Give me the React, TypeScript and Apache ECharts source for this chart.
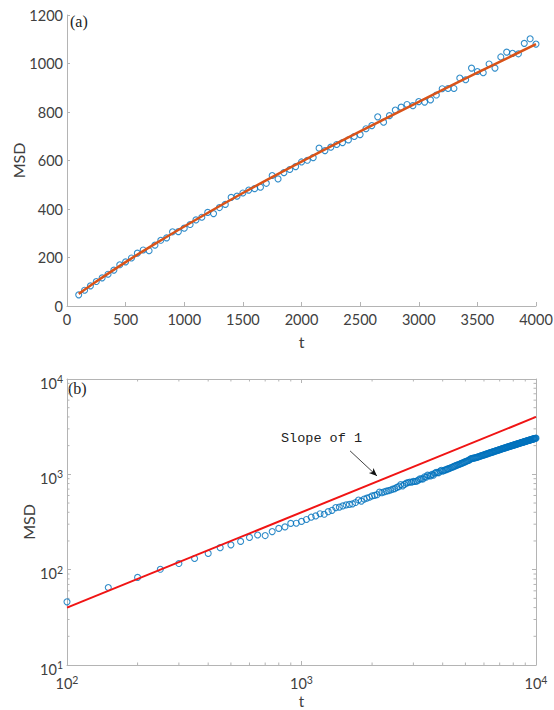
import React, { useEffect, useRef } from 'react';
import * as echarts from 'echarts';

// sample times: t = 100, 150, 200, ... (step 50)
const T_START = 100;
const T_STEP = 50;

// MSD, t = 100 ... 4000
const MSD_A = [
  46, 65, 83, 101, 116, 131, 148, 170, 182,
  198, 218, 231, 228, 251, 271, 281, 306, 307, 321,
  336, 355, 366, 386, 381, 406, 419, 448, 453, 466,
  478, 484, 490, 506, 538, 524, 550, 563, 575, 594,
  601, 612, 651, 641, 655, 666, 674, 685, 699, 707,
  731, 744, 780, 758, 785, 808, 820, 831, 826, 843,
  841, 850, 870, 896, 897, 897, 940, 933, 981, 967,
  962, 998, 981, 1027, 1047, 1042, 1040, 1083, 1102, 1080,
];

// MSD, t = 4050 ... 10000
const MSD_B_TAIL = [
  1098, 1112, 1121, 1139, 1147, 1163, 1180, 1188, 1205, 1221,
  1232, 1250, 1259, 1273, 1285, 1302, 1310, 1331, 1342, 1361,
  1370, 1388, 1396, 1418, 1446, 1460, 1472, 1475, 1487, 1490,
  1502, 1505, 1522, 1528, 1547, 1553, 1570, 1576, 1592, 1600,
  1612, 1619, 1637, 1641, 1657, 1666, 1678, 1686, 1702, 1710,
  1722, 1730, 1745, 1752, 1768, 1773, 1789, 1795, 1808, 1816,
  1830, 1835, 1853, 1856, 1872, 1878, 1893, 1898, 1914, 1918,
  1934, 1938, 1955, 1960, 1973, 1980, 1993, 2000, 2015, 2018,
  2035, 2038, 2052, 2060, 2073, 2078, 2095, 2098, 2113, 2118,
  2131, 2137, 2151, 2156, 2171, 2174, 2190, 2194, 2208, 2212,
  2228, 2230, 2246, 2250, 2265, 2268, 2283, 2287, 2301, 2305,
  2321, 2323, 2338, 2342, 2355, 2360, 2373, 2377, 2392, 2396,
];

// fitted curve in (a)
const FIT_T = [100, 250, 500, 750, 1000, 1500, 2000, 2500, 3000, 3500, 4000];
const FIT_MSD = [50, 101, 181, 256, 328, 466, 595, 720, 842, 962, 1080];

// slope-1 reference line in (b)
const SLOPE_T = [100, 10000];
const SLOPE_MSD = [40, 4000];

// annotation arrow (data coords of panel b)
const ARROW_FROM = [1611, 1762];
const ARROW_TO = [2099, 961];

const X_MINOR = [200, 300, 400, 500, 600, 700, 800, 900, 2000, 3000, 4000, 5000, 6000, 7000, 8000, 9000];
const Y_MINOR = [20, 30, 40, 50, 60, 70, 80, 90, 200, 300, 400, 500, 600, 700, 800, 900, 2000, 3000, 4000, 5000, 6000, 7000, 8000, 9000];

const AX = '#b4b4b4';
const LBL = '#404040';
const FONT = "Lato, 'Open Sans', sans-serif";
const BLUE = '#0072BD';

const seriesA = MSD_A.map((v, i) => [T_START + T_STEP * i, v]);
const allB = MSD_A.concat(MSD_B_TAIL);
const seriesB = allB.map((v, i) => [T_START + T_STEP * i, v]);
const fitA = FIT_T.map((t, i) => [t, FIT_MSD[i]]);
const slopeOne = SLOPE_T.map((t, i) => [t, SLOPE_MSD[i]]);

const supLabel = (v: number) => `{b|10}{s|${Math.round(Math.log10(v))}}`;
const richY = {
  b: { fontSize: 14.5, verticalAlign: 'bottom', padding: [8, 0, 0, 0], color: LBL, fontFamily: FONT },
  s: { fontSize: 10.5, verticalAlign: 'bottom', padding: [0, 0, 6, 0], color: LBL, fontFamily: FONT },
};
const richX = {
  b: { fontSize: 14.5, verticalAlign: 'bottom', padding: [4, 0, 0, 0], color: LBL, fontFamily: FONT },
  s: { fontSize: 10.5, verticalAlign: 'bottom', padding: [0, 0, 6, 0], color: LBL, fontFamily: FONT },
};

const axisLine = { lineStyle: { color: AX, width: 1 } };
const tick = { inside: true, length: 4, lineStyle: { color: AX, width: 1 } };
const plain = (v: number) => String(v);

export default function App() {
  const ref = useRef<HTMLDivElement>(null);
  useEffect(() => {
    if (!ref.current) return;
    const chart = echarts.init(ref.current, undefined, { renderer: 'svg' });
    const minorX = (params: any, api: any) => {
      const v = api.value(0);
      const p0 = api.coord([v, 10]);
      const p1 = api.coord([v, 10000]);
      return {
        type: 'group',
        children: [
          { type: 'line', shape: { x1: p0[0], y1: p0[1], x2: p0[0], y2: p0[1] - 2.5 }, style: { stroke: AX, lineWidth: 1 } },
          { type: 'line', shape: { x1: p1[0], y1: p1[1], x2: p1[0], y2: p1[1] + 2.5 }, style: { stroke: AX, lineWidth: 1 } },
        ],
      };
    };
    const minorY = (params: any, api: any) => {
      const v = api.value(1);
      const p0 = api.coord([100, v]);
      const p1 = api.coord([10000, v]);
      return {
        type: 'group',
        children: [
          { type: 'line', shape: { x1: p0[0], y1: p0[1], x2: p0[0] + 2.5, y2: p0[1] }, style: { stroke: AX, lineWidth: 1 } },
          { type: 'line', shape: { x1: p1[0], y1: p1[1], x2: p1[0] - 2.5, y2: p1[1] }, style: { stroke: AX, lineWidth: 1 } },
        ],
      };
    };
    const nameStyle = { color: LBL, fontSize: 16, fontFamily: FONT };
    const option: any = {
      animation: false,
      backgroundColor: '#ffffff',
      grid: [
        { left: 67, top: 15, width: 469, height: 291, outerBoundsMode: 'none' },
        { left: 67, top: 379, width: 469, height: 286, outerBoundsMode: 'none' },
      ],
      xAxis: [
        {
          type: 'value', gridIndex: 0, min: 0, max: 4000, interval: 500,
          axisLine, axisTick: tick, splitLine: { show: false },
          axisLabel: { color: LBL, fontSize: 14.5, fontFamily: FONT, margin: 6, formatter: plain },
          name: 't', nameLocation: 'middle', nameGap: 27, nameMoveOverlap: false,
          nameTextStyle: nameStyle,
        },
        {
          type: 'log', logBase: 10, gridIndex: 1, min: 100, max: 10000,
          axisLine, axisTick: tick, splitLine: { show: false }, minorTick: { show: false },
          axisLabel: { formatter: supLabel, rich: richX, margin: 7 },
          name: 't', nameLocation: 'middle', nameGap: 28, nameMoveOverlap: false,
          nameTextStyle: { ...nameStyle, fontSize: 15 },
        },
        {
          type: 'log', logBase: 10, gridIndex: 1, min: 100, max: 10000, position: 'top',
          axisLine, axisTick: tick, splitLine: { show: false }, axisLabel: { show: false },
        },
      ],
      yAxis: [
        {
          type: 'value', gridIndex: 0, min: 0, max: 1200, interval: 200,
          axisLine: { show: true, ...axisLine }, axisTick: { show: true, ...tick, length: 3 }, splitLine: { show: false },
          axisLabel: { color: LBL, fontSize: 14.5, fontFamily: FONT, margin: 4, formatter: plain },
          name: 'MSD', nameLocation: 'middle', nameGap: 41, nameRotate: 90, nameMoveOverlap: false,
          nameTextStyle: nameStyle,
        },
        {
          type: 'log', logBase: 10, gridIndex: 1, min: 10, max: 10000,
          axisLine: { show: true, ...axisLine }, axisTick: { show: true, ...tick }, splitLine: { show: false },
          axisLabel: { formatter: supLabel, rich: richY, margin: 4 },
          name: 'MSD', nameLocation: 'middle', nameGap: 31, nameRotate: 90, nameMoveOverlap: false,
          nameTextStyle: nameStyle,
        },
        {
          type: 'log', logBase: 10, gridIndex: 1, min: 10, max: 10000, position: 'right',
          axisLine: { show: true, ...axisLine }, axisTick: { show: true, ...tick }, splitLine: { show: false },
          axisLabel: { show: false },
        },
      ],
      series: [
        {
          type: 'scatter', xAxisIndex: 0, yAxisIndex: 0, data: seriesA,
          symbol: 'circle', symbolSize: 6,
          itemStyle: { color: 'rgba(255,255,255,0)', borderColor: BLUE, borderWidth: 1.1 },
          z: 2,
        },
        {
          type: 'line', xAxisIndex: 0, yAxisIndex: 0, data: fitA, smooth: 0.3,
          showSymbol: false, symbol: 'none', lineStyle: { color: '#D95319', width: 2.5 }, z: 3,
        },
        {
          type: 'scatter', xAxisIndex: 1, yAxisIndex: 1, data: seriesB,
          symbol: 'circle', symbolSize: 6,
          itemStyle: { color: 'rgba(255,255,255,0)', borderColor: BLUE, borderWidth: 1.1 },
          z: 2,
        },
        {
          type: 'line', xAxisIndex: 1, yAxisIndex: 1, data: slopeOne,
          showSymbol: false, symbol: 'none', lineStyle: { color: '#F01414', width: 2 }, z: 3,
          markLine: {
            silent: true, symbol: ['none', 'arrow'], symbolSize: [5, 8],
            lineStyle: { color: '#111', width: 0.8, type: 'solid' },
            label: { show: false },
            data: [[{ coord: ARROW_FROM }, { coord: ARROW_TO }]],
          },
        },
        {
          type: 'custom', xAxisIndex: 1, yAxisIndex: 1, silent: true,
          data: X_MINOR.map((v) => [v, 10]), renderItem: minorX, z: 1,
        },
        {
          type: 'custom', xAxisIndex: 1, yAxisIndex: 1, silent: true,
          data: Y_MINOR.map((v) => [100, v]), renderItem: minorY, z: 1,
        },
      ],
      graphic: [
        { type: 'text', x: 70, y: 21, style: { text: '(a)', fontSize: 16, fontFamily: "'Liberation Serif', 'DejaVu Serif', serif", fill: '#222', verticalAlign: 'middle', align: 'left' } },
        { type: 'text', x: 68, y: 388, style: { text: '(b)', fontSize: 16, fontFamily: "'Liberation Serif', 'DejaVu Serif', serif", fill: '#222', verticalAlign: 'middle', align: 'left' } },
        { type: 'text', x: 281, y: 438, style: { text: 'Slope of 1', fontSize: 13.5, fontFamily: "'Liberation Mono', 'DejaVu Sans Mono', monospace", fill: '#222', verticalAlign: 'middle', align: 'left' } },
      ],
    };
    chart.setOption(option);
    return () => chart.dispose();
  }, []);
  return <div ref={ref} style={{ position: 'absolute', left: 0, top: 0, width: 554, height: 710 }} />;
}
